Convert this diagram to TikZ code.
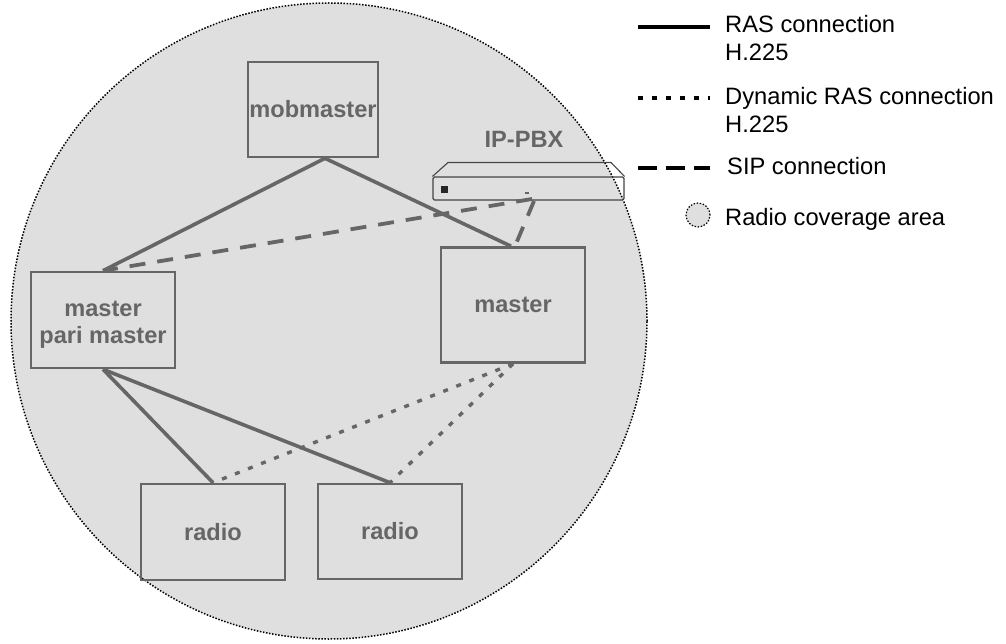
\documentclass[tikz,border=0pt]{standalone}
\usepackage{fontspec}
\setmainfont{Liberation Sans}
\definecolor{boxgray}{HTML}{666666}
\definecolor{areagray}{HTML}{DFDFDF}
\definecolor{pbxline}{HTML}{444444}
\begin{document}
\begin{tikzpicture}[x=1pt,y=-1pt,
  unit/.style={draw=boxgray,line width=2.6pt,fill=none,minimum width=142pt,minimum height=94pt,inner sep=0pt,align=center,text=boxgray,font=\fontsize{23.6}{27}\selectfont\bfseries},
  ras/.style={draw=boxgray,line width=3.6pt},
  dyn/.style={draw=boxgray,line width=3.4pt,dash pattern=on 5pt off 9pt},
  sip/.style={draw=boxgray,line width=3.8pt,dash pattern=on 16pt off 12pt},
  legtext/.style={anchor=west,align=left,inner sep=0pt,font=\fontsize{23.7}{27.5}\selectfont,text=black},
  area/.style={fill=areagray,draw=black,line width=1.5pt,dash pattern=on 1.5pt off 1.6pt},
  leg/.style={draw=black}]
\useasboundingbox (0,0) rectangle (1006,644);
\node[area,circle,minimum size=636pt,inner sep=0pt] (coverage) at (329,321) {};
\node[unit,minimum width=130pt,minimum height=95pt] (mob) at (313,109.5) {mobmaster};
\node[unit,minimum width=144pt,minimum height=96pt] (pari) at (103,320) {\\[-2pt]master\\pari master};
\node[unit,minimum width=144pt,minimum height=115pt] (mas) at (513,305) {master};
\node[unit,minimum width=144pt,minimum height=96pt] (r1) at (213,532) {radio};
\node[unit,minimum width=144pt,minimum height=95pt] (r2) at (390,531.5) {radio};
% IP-PBX
\node[text=boxgray,inner sep=0pt,font=\fontsize{23.6}{27}\selectfont\bfseries] (pbxlabel) at (524,139) {IP-PBX};
\node[draw=pbxline,line width=1.1pt,rounded corners=1.5pt,minimum width=191pt,minimum height=23pt,inner sep=0pt] (pbx) at (528.5,188.5) {};
\draw[draw=pbxline,line width=1.1pt] (pbx.north west) -- (448,162.5) -- (611,162.5) -- (pbx.north east);
\node[fill=black!85,minimum size=7pt,inner sep=0pt] (led) at (444.5,190) {};
\node[fill=boxgray,minimum width=4pt,minimum height=1.5pt,inner sep=0pt] (port) at (527,193) {};
\coordinate (sipa) at (532,199);
\coordinate (sipb) at (534,201);
% connectors
\draw[ras] (mob.south) ++(12,0) coordinate (mobb) (mobb) -- (pari.north);
\draw[ras] (mobb) -- ([xshift=-2pt]mas.north);
\draw[sip] (sipa) -- (pari.north);
\draw[sip] (sipb) -- ([xshift=2pt]mas.north);
\draw[ras] (pari.south) -- (r1.north);
\draw[ras] (pari.south) -- (r2.north);
\draw[dyn] (mas.south) -- (r1.north);
\draw[dyn] (mas.south) -- (r2.north);
% legend
\coordinate (la1) at (638,27); \coordinate (la2) at (710,27);
\coordinate (lb1) at (638,98); \coordinate (lb2) at (710,98);
\coordinate (lc1) at (638,168); \coordinate (lc2) at (710,168);
\draw[draw=black,line width=3.4pt] (la1) -- (la2);
\draw[draw=black,line width=3.6pt,dash pattern=on 4.5pt off 9.5pt] (lb1) -- (lb2);
\draw[draw=black,line width=3.6pt,dash pattern=on 19pt off 9pt] (lc1) -- (lc2);
\node[legtext] (t1) at (725,38) {RAS connection\\H.225};
\node[legtext] (t2) at (725,110) {Dynamic RAS connection\\H.225};
\node[legtext] (t3) at (727,166) {SIP connection};
\node[legtext] (t4) at (725,219) {Radio coverage area};
\node[area,circle,minimum size=24pt,inner sep=0pt,line width=1.2pt] (legc) at (698,215) {};
\end{tikzpicture}
\end{document}
